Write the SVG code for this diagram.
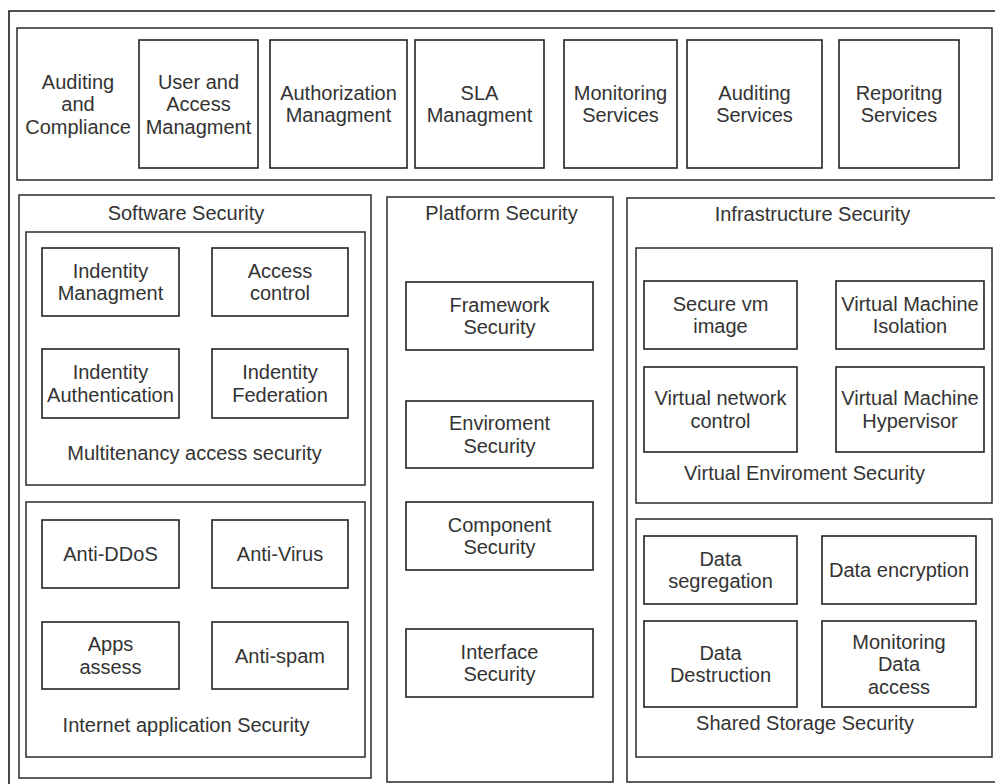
<svg xmlns="http://www.w3.org/2000/svg" width="995" height="784" viewBox="0 0 995 784">
  <style>
    .frame { fill: none; stroke: #1a1a1a; stroke-width: 1.6; }
    .box { fill: #ffffff; stroke: #222222; stroke-width: 1.6; }
    .panel { fill: #ffffff; stroke: #2a2a2a; stroke-width: 1.5; }
    text { font-family: "Liberation Sans", Arial, sans-serif; font-size: 20px; fill: #333333; text-anchor: middle; }
  </style>
  <rect width="995" height="784" fill="#ffffff"/>

  <!-- outer frame, running past the right and bottom edges -->
  <path class="frame" d="M9,790 V11 H1000"/>

  <!-- management layer -->
  <g id="management-layer">
    <rect class="panel" x="17" y="28" width="975" height="152"/>
    <text x="78" y="88.5">Auditing</text>
    <text x="78" y="111">and</text>
    <text x="78" y="133.5">Compliance</text>
  </g>
  <g id="user-access">
    <rect class="box" x="139" y="40" width="119" height="128"/>
    <text x="198.5" y="88.5">User and</text>
    <text x="198.5" y="111">Access</text>
    <text x="198.5" y="133.5">Managment</text>
  </g>
  <g id="authorization">
    <rect class="box" x="270" y="40" width="137" height="128"/>
    <text x="338.5" y="99.75">Authorization</text>
    <text x="338.5" y="122.25">Managment</text>
  </g>
  <g id="sla">
    <rect class="box" x="415" y="40" width="129" height="128"/>
    <text x="479.5" y="99.75">SLA</text>
    <text x="479.5" y="122.25">Managment</text>
  </g>
  <g id="monitoring-services">
    <rect class="box" x="564" y="40" width="113" height="128"/>
    <text x="620.5" y="99.75">Monitoring</text>
    <text x="620.5" y="122.25">Services</text>
  </g>
  <g id="auditing-services">
    <rect class="box" x="687" y="40" width="135" height="128"/>
    <text x="754.5" y="99.75">Auditing</text>
    <text x="754.5" y="122.25">Services</text>
  </g>
  <g id="reporting-services">
    <rect class="box" x="839" y="40" width="120" height="128"/>
    <text x="899" y="99.75">Reporitng</text>
    <text x="899" y="122.25">Services</text>
  </g>

  <!-- software security column -->
  <g id="software-security">
    <rect class="panel" x="19" y="195" width="352" height="583"/>
    <text x="186" y="220">Software Security</text>
  </g>
  <g id="multitenancy-access-security">
    <rect class="panel" x="26" y="232" width="339" height="253"/>
    <text x="194.5" y="460">Multitenancy access security</text>
  </g>
  <g id="identity-management">
    <rect class="box" x="42" y="248" width="137" height="68"/>
    <text x="110.5" y="277.75">Indentity</text>
    <text x="110.5" y="300.25">Managment</text>
  </g>
  <g id="access-control">
    <rect class="box" x="212" y="248" width="136" height="68"/>
    <text x="280" y="277.75">Access</text>
    <text x="280" y="300.25">control</text>
  </g>
  <g id="identity-authentication">
    <rect class="box" x="42" y="349" width="137" height="69"/>
    <text x="110.5" y="379.25">Indentity</text>
    <text x="110.5" y="401.75">Authentication</text>
  </g>
  <g id="identity-federation">
    <rect class="box" x="212" y="349" width="136" height="69"/>
    <text x="280" y="379.25">Indentity</text>
    <text x="280" y="401.75">Federation</text>
  </g>
  <g id="internet-application-security">
    <rect class="panel" x="26" y="502" width="339" height="255"/>
    <text x="186" y="732">Internet application Security</text>
  </g>
  <g id="anti-ddos">
    <rect class="box" x="42" y="520" width="137" height="68"/>
    <text x="110.5" y="561">Anti-DDoS</text>
  </g>
  <g id="anti-virus">
    <rect class="box" x="212" y="520" width="136" height="68"/>
    <text x="280" y="561">Anti-Virus</text>
  </g>
  <g id="apps-assess">
    <rect class="box" x="42" y="622" width="137" height="67"/>
    <text x="110.5" y="651.25">Apps</text>
    <text x="110.5" y="673.75">assess</text>
  </g>
  <g id="anti-spam">
    <rect class="box" x="212" y="622" width="136" height="67"/>
    <text x="280" y="662.5">Anti-spam</text>
  </g>

  <!-- platform security column -->
  <g id="platform-security">
    <rect class="panel" x="387" y="197" width="226" height="585"/>
    <text x="501.5" y="220">Platform Security</text>
  </g>
  <g id="framework-security">
    <rect class="box" x="406" y="282" width="187" height="68"/>
    <text x="499.5" y="311.75">Framework</text>
    <text x="499.5" y="334.25">Security</text>
  </g>
  <g id="environment-security">
    <rect class="box" x="406" y="401" width="187" height="67"/>
    <text x="499.5" y="430.25">Enviroment</text>
    <text x="499.5" y="452.75">Security</text>
  </g>
  <g id="component-security">
    <rect class="box" x="406" y="502" width="187" height="68"/>
    <text x="499.5" y="531.75">Component</text>
    <text x="499.5" y="554.25">Security</text>
  </g>
  <g id="interface-security">
    <rect class="box" x="406" y="629" width="187" height="68"/>
    <text x="499.5" y="658.75">Interface</text>
    <text x="499.5" y="681.25">Security</text>
  </g>

  <!-- infrastructure security column, running past the right edge -->
  <g id="infrastructure-security">
    <rect class="panel" x="627" y="198" width="400" height="584"/>
    <text x="812.5" y="221">Infrastructure Security</text>
  </g>
  <g id="virtual-environment-security">
    <rect class="panel" x="636" y="248" width="356" height="255"/>
    <text x="804.5" y="480">Virtual Enviroment Security</text>
  </g>
  <g id="secure-vm-image">
    <rect class="box" x="644" y="281" width="153" height="68"/>
    <text x="720.5" y="310.75">Secure vm</text>
    <text x="720.5" y="333.25">image</text>
  </g>
  <g id="vm-isolation">
    <rect class="box" x="836" y="281" width="148" height="68"/>
    <text x="910" y="310.75">Virtual Machine</text>
    <text x="910" y="333.25">Isolation</text>
  </g>
  <g id="virtual-network-control">
    <rect class="box" x="644" y="367" width="153" height="85"/>
    <text x="720.5" y="405.25">Virtual network</text>
    <text x="720.5" y="427.75">control</text>
  </g>
  <g id="vm-hypervisor">
    <rect class="box" x="836" y="367" width="148" height="85"/>
    <text x="910" y="405.25">Virtual Machine</text>
    <text x="910" y="427.75">Hypervisor</text>
  </g>
  <g id="shared-storage-security">
    <rect class="panel" x="636" y="519" width="356" height="238"/>
    <text x="805" y="730">Shared Storage Security</text>
  </g>
  <g id="data-segregation">
    <rect class="box" x="644" y="536" width="153" height="68"/>
    <text x="720.5" y="565.75">Data</text>
    <text x="720.5" y="588.25">segregation</text>
  </g>
  <g id="data-encryption">
    <rect class="box" x="822" y="536" width="154" height="68"/>
    <text x="899" y="577">Data encryption</text>
  </g>
  <g id="data-destruction">
    <rect class="box" x="644" y="621" width="153" height="86"/>
    <text x="720.5" y="659.75">Data</text>
    <text x="720.5" y="682.25">Destruction</text>
  </g>
  <g id="monitoring-data-access">
    <rect class="box" x="822" y="621" width="154" height="86"/>
    <text x="899" y="648.5">Monitoring</text>
    <text x="899" y="671">Data</text>
    <text x="899" y="693.5">access</text>
  </g>

  <!-- the layout has no connectors -->
  <g id="connectors"/>
</svg>
